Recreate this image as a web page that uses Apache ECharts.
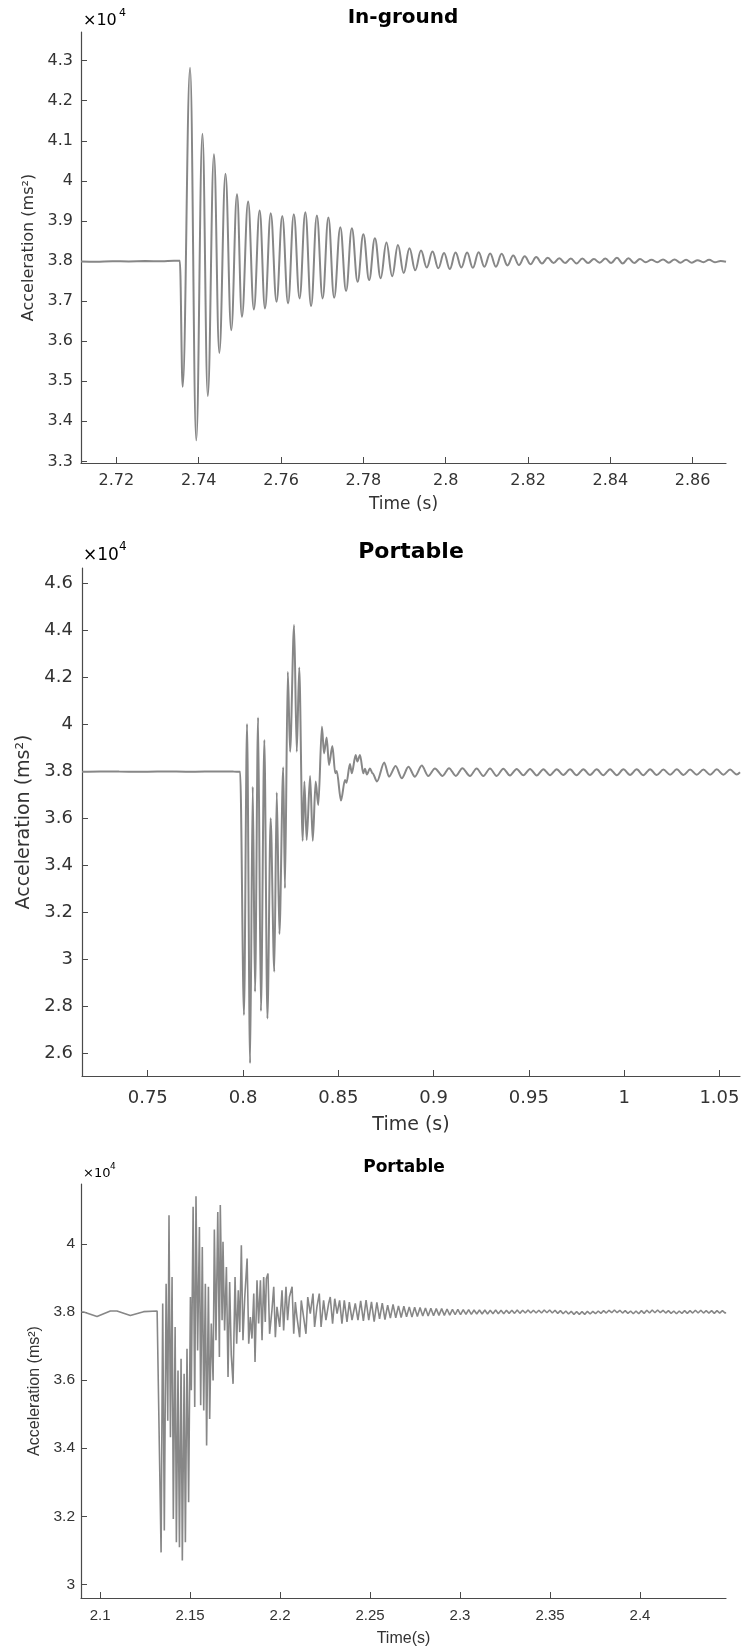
<!DOCTYPE html>
<html><head><meta charset="utf-8">
<script src="https://cdn.jsdelivr.net/npm/echarts@6/dist/echarts.min.js"></script>
<style>html,body{margin:0;padding:0;background:#fff}#c{width:743px;height:1651px}</style>
</head><body><div id="c"></div>
<script>
// ---------- Panel 1: In-ground  [time (s), acceleration]
const inGroundSamples = [
[2.7114,37990],[2.7150,37985],[2.7190,37995],[2.7230,37990],[2.7270,37998],[2.7310,37995],[2.7340,38005],[2.7354,38005],
[2.7361,34860],[2.7379,42820],[2.7394,33525],[2.7409,41175],[2.7422,34633],[2.7437,40667],[2.7450,35708],[2.7465,40175],
[2.7479,36275],[2.7493,39667],[2.7505,36608],[2.7520,39483],[2.7534,36792],[2.7548,39258],[2.7561,36817],[2.7575,39192],
[2.7589,36983],[2.7603,39125],[2.7617,36942],[2.7631,39167],[2.7645,37067],[2.7659,39217],[2.7673,36875],[2.7687,39133],
[2.7701,37067],[2.7715,39083],[2.7729,37083],[2.7744,38842],[2.7758,37250],[2.7772,38817],[2.7786,37483],[2.7800,38667],
[2.7814,37525],[2.7828,38570],[2.7842,37570],[2.7856,38460],[2.7870,37620],[2.7884,38400],[2.7898,37700],[2.7912,38320],
[2.7926,37770],[2.7940,38260],[2.7954,37840],[2.7968,38240],[2.7982,37820],[2.7996,38200],[2.8010,37800],[2.8024,38210],
[2.8038,37840],[2.8052,38210],[2.8066,37830],[2.8080,38220],[2.8094,37860],[2.8108,38190],[2.8122,37860],[2.8136,38180],
[2.8150,37890],[2.8164,38140],[2.8178,37900],[2.8192,38120],[2.8206,37920],[2.8220,38100],[2.8234,37940],[2.8248,38080],
[2.8262,37950],[2.8276,38070],[2.8290,37950],[2.8304,38060],[2.8318,37940],[2.8332,38060],[2.8346,37950],[2.8360,38050],
[2.8374,37960],[2.8388,38060],[2.8402,37950],[2.8416,38080],[2.8430,37940],[2.8444,38070],[2.8458,37950],[2.8472,38050],
[2.8486,37970],[2.8500,38030],[2.8514,37970],[2.8528,38040],[2.8542,37960],[2.8556,38040],[2.8570,37960],[2.8584,38030],
[2.8598,37960],[2.8612,38020],[2.8626,37970],[2.8640,38030],[2.8654,37970],[2.8668,38000],[2.8681,37980]
];
const inGroundXTicks = [2.72,2.74,2.76,2.78,2.80,2.82,2.84,2.86];
const inGroundYTicks = [33000,34000,35000,36000,37000,38000,39000,40000,41000,42000,43000];

// ---------- Panel 2: Portable (first)
const portableASamples = [
[0.7155,37970],[0.7250,37980],[0.7350,37975],[0.7450,37965],[0.7550,37980],[0.7650,37975],[0.7750,37970],[0.7850,37980],
[0.7950,37975],[0.7985,37970],[0.8005,27620],[0.8021,40000],[0.8037,25560],[0.8051,37330],[0.8063,28610],[0.8079,40280],
[0.8094,27790],[0.8112,39320],[0.8128,27470],[0.8145,35990],[0.8164,29460],[0.8177,37090],[0.8191,31060],[0.8211,38160],
[0.8220,33010],[0.8235,42220],[0.8247,38820],[0.8268,44210],[0.8282,38820],[0.8295,42410],[0.8313,35030],[0.8322,37550],
[0.8334,35060],[0.8352,37790],[0.8366,35030],[0.8381,37550],[0.8395,36550],[0.8414,39890],[0.8425,38750],[0.8439,39430],
[0.8451,38260],[0.8469,39060],[0.8484,37900],[0.8492,38000],[0.8514,36740],[0.8535,37620],[0.8543,37500],[0.8561,38300],
[0.8571,37900],[0.8591,38680],[0.8600,38400],[0.8614,38680],[0.8631,37900],[0.8640,38100],[0.8650,37850],[0.8666,38110],
[0.8680,37900],[0.8703,37550],[0.8741,38360],[0.8766,37760],[0.8801,38210],[0.8833,37690],[0.8868,38180],[0.8902,37760],
[0.8938,38230],[0.8972,37790],[0.9007,38110],[0.9047,37790],[0.9081,38120],[0.9117,37790],[0.9151,38120],[0.9191,37790],
[0.9226,38110],[0.9261,37790],[0.9296,38110],[0.9331,37790],[0.9366,38100],[0.9401,37810],[0.9436,38090],[0.9471,37820],
[0.9506,38090],[0.9541,37810],[0.9576,38080],[0.9611,37820],[0.9646,38080],[0.9681,37830],[0.9716,38070],[0.9751,37820],
[0.9786,38080],[0.9821,37830],[0.9856,38070],[0.9891,37820],[0.9926,38080],[0.9961,37820],[0.9996,38070],[1.0031,37830],
[1.0066,38070],[1.0101,37820],[1.0136,38080],[1.0171,37830],[1.0206,38060],[1.0241,37840],[1.0276,38070],[1.0311,37830],
[1.0346,38060],[1.0381,37840],[1.0416,38060],[1.0451,37840],[1.0486,38070],[1.0521,37840],[1.0556,38060],[1.0591,37850],
[1.0608,37950]
];
const portableAXTicks = [0.75,0.80,0.85,0.90,0.95,1.00,1.05];
const portableAYTicks = [26000,28000,30000,32000,34000,36000,38000,40000,42000,44000,46000];

// ---------- Panel 3: Portable (second)
const portableBSamples = [
[2.0896,38000],[2.0909,38000],[2.0983,37870],[2.1057,38030],[2.1094,38030],[2.1168,37900],[2.1242,38010],[2.1317,38030],
[2.1326,38000],[2.1339,30940],[2.1348,38250],[2.1357,31580],[2.1367,38830],[2.1376,34810],[2.1383,40840],[2.1391,34320],
[2.1400,39030],[2.1407,31920],[2.1417,37560],[2.1424,31240],[2.1433,36280],[2.1441,31090],[2.1450,36630],[2.1457,30700],
[2.1467,36190],[2.1474,31240],[2.1483,36920],[2.1492,32410],[2.1502,38440],[2.1507,35700],[2.1517,41090],[2.1526,35210],
[2.1533,41400],[2.1542,36870],[2.1552,40500],[2.1559,35260],[2.1568,39910],[2.1576,35110],[2.1585,38830],[2.1592,34080],
[2.1602,38740],[2.1609,34860],[2.1618,37660],[2.1628,35990],[2.1635,40420],[2.1644,37170],[2.1654,40940],[2.1663,36680],
[2.1668,41140],[2.1678,37760],[2.1683,40060],[2.1692,37460],[2.1702,39320],[2.1711,36090],[2.1720,38880],[2.1729,36730],
[2.1739,35890],[2.1750,39030],[2.1759,37070],[2.1768,38640],[2.1776,37410],[2.1785,39960],[2.1794,37170],[2.1804,38440],
[2.1817,39570],[2.1826,37070],[2.1835,37850],[2.1844,37220],[2.1854,38540],[2.1861,36530],[2.1872,38930],[2.1881,37660],
[2.1891,38930],[2.1900,37170],[2.1909,39030],[2.1918,37710],[2.1924,38980],[2.1933,39130],[2.1942,37360],[2.1955,38050],
[2.1965,38740],[2.1974,37260],[2.1983,38150],[2.1998,37560],[2.2011,38640],[2.2020,37460],[2.2033,38740],[2.2042,37760],
[2.2052,38440],[2.2067,38740],[2.2076,37360],[2.2085,38290],[2.2094,37850],[2.2109,37260],[2.2118,38340],[2.2131,37850],
[2.2144,37360],[2.2154,38440],[2.2168,37950],[2.2183,38540],[2.2192,37560],[2.2205,38150],[2.2218,38540],[2.2228,37560],
[2.2242,38340],[2.2255,37760],[2.2270,38250],[2.2279,38440],[2.2292,37660],[2.2304,38390],[2.2317,37950],[2.2331,38340],
[2.2344,37660],[2.2357,38340],[2.2372,37710],[2.2385,38290],[2.2400,37760],[2.2418,38250],[2.2433,37760],
[2.2448,38330],[2.2463,37740],[2.2478,38350],[2.2493,37760],[2.2508,38300],[2.2523,37720],[2.2538,38280],[2.2553,37800],
[2.2568,38260],[2.2583,37780],[2.2598,38200],[2.2613,37820],[2.2628,38220],[2.2643,37830],[2.2658,38180],[2.2673,37840],
[2.2688,38170],[2.2703,37860],[2.2718,38150],[2.2733,37850],[2.2748,38140],[2.2763,37870],[2.2778,38130],[2.2793,37880],
[2.2808,38120],[2.2823,37880],[2.2838,38110],[2.2853,37890],[2.2868,38100],[2.2883,37900],[2.2898,38100],[2.2913,37900],
[2.2928,38090],[2.2943,37910],[2.2958,38080],[2.2973,37920],[2.2988,38080],[2.3003,37920],[2.3018,38070],[2.3033,37930],
[2.3048,38070],[2.3063,37930],[2.3078,38060],[2.3093,37940],[2.3108,38060],[2.3123,37940],[2.3138,38060],[2.3153,37940],
[2.3168,38050],[2.3183,37950],[2.3198,38060],[2.3213,37950],[2.3228,38050],[2.3243,37950],[2.3258,38050],[2.3273,37960],
[2.3288,38050],[2.3303,37960],[2.3318,38060],[2.3333,37960],[2.3348,38050],[2.3363,37970],[2.3378,38060],[2.3393,37970],
[2.3408,38050],[2.3423,37970],[2.3438,38050],[2.3453,37970],[2.3468,38060],[2.3483,37980],[2.3498,38060],[2.3513,37970],
[2.3528,38050],[2.3543,37960],[2.3558,38040],[2.3573,37950],[2.3588,38030],[2.3603,37940],[2.3618,38020],[2.3633,37930],
[2.3648,38010],[2.3663,37930],[2.3678,38010],[2.3693,37930],[2.3708,38020],[2.3723,37940],[2.3738,38020],[2.3753,37950],
[2.3768,38030],[2.3783,37960],[2.3798,38040],[2.3813,37970],[2.3828,38050],[2.3843,37980],[2.3858,38060],[2.3873,37980],
[2.3888,38050],[2.3903,37970],[2.3918,38040],[2.3933,37960],[2.3948,38030],[2.3963,37950],[2.3978,38030],[2.3993,37950],
[2.4008,38040],[2.4023,37960],[2.4038,38050],[2.4053,37970],[2.4068,38060],[2.4083,37980],[2.4098,38060],[2.4113,37980],
[2.4128,38050],[2.4143,37970],[2.4158,38040],[2.4173,37960],[2.4188,38030],[2.4203,37950],[2.4218,38030],[2.4233,37960],
[2.4248,38040],[2.4263,37960],[2.4278,38040],[2.4293,37970],[2.4308,38050],[2.4323,37970],[2.4338,38050],[2.4353,37970],
[2.4368,38040],[2.4383,37970],[2.4398,38040],[2.4413,37960],[2.4428,38040],[2.4443,37970],[2.4458,38040],[2.4473,37970],
[2.4478,37990]
];
const portableBXTicks = [2.10,2.15,2.20,2.25,2.30,2.35,2.40];
const portableBYTicks = [30000,32000,34000,36000,38000,40000];

// ---------- styling
const DJ = 'DejaVu Sans', LB = 'Liberation Sans';
const AXC = '#4a4a4a', TXT = '#333333', LINEC = '#878787';
const fx = v => String(Number(v.toFixed(2)));
const fy = v => String(Number((v / 1e4).toFixed(1)));

function xAx(gi, min, max, ticks, font, fs, margin, name, nfs, gap) {
  return {
    type: 'value', gridIndex: gi, min, max,
    name, nameLocation: 'middle', nameGap: gap,
    nameTextStyle: { fontFamily: font, fontSize: nfs, color: TXT },
    axisLine: { show: true, onZero: false, lineStyle: { color: AXC, width: 1.2 } },
    axisTick: { show: true, inside: true, length: 6, customValues: ticks, lineStyle: { color: AXC, width: 1 } },
    axisLabel: { customValues: ticks, formatter: fx, fontFamily: font, fontSize: fs, color: TXT, margin },
    splitLine: { show: false }
  };
}
function yAx(gi, min, max, ticks, font, fs, margin, name, nfs, gap) {
  return {
    type: 'value', gridIndex: gi, min, max,
    name, nameLocation: 'middle', nameGap: gap, nameRotate: 90,
    nameTextStyle: { fontFamily: font, fontSize: nfs, color: TXT },
    axisLine: { show: true, onZero: false, lineStyle: { color: AXC, width: 1.2 } },
    axisTick: { show: true, inside: true, length: 6, customValues: ticks, lineStyle: { color: AXC, width: 1 } },
    axisLabel: { customValues: ticks, formatter: fy, fontFamily: font, fontSize: fs, color: TXT, margin },
    splitLine: { show: false }
  };
}
function txt(x, y, text, font, align) {
  return { type: 'text', x, y, silent: true,
    style: { text, font, fill: '#000', textAlign: align || 'left', textVerticalAlign: 'middle' } };
}

const chart = echarts.init(document.getElementById('c'), null, { renderer: 'canvas' });
chart.setOption({
  animation: false,
  backgroundColor: '#ffffff',
  grid: [
    { left: 81, top: 32, width: 645, height: 431, outerBoundsMode: 'none' },
    { left: 82, top: 568, width: 658, height: 508, outerBoundsMode: 'none' },
    { left: 81, top: 1184, width: 645, height: 414, outerBoundsMode: 'none' }
  ],
  xAxis: [
    xAx(0, 2.7114, 2.8681, inGroundXTicks, DJ, 16, 10, 'Time (s)', 17, 33),
    xAx(1, 0.7155, 1.0608, portableAXTicks, DJ, 18, 13, 'Time (s)', 19, 40),
    xAx(2, 2.0894, 2.4478, portableBXTicks, LB, 15, 10, 'Time(s)', 16, 33)
  ],
  yAxis: [
    yAx(0, 32960, 43715, inGroundYTicks, DJ, 16, 8, 'Acceleration (ms²)', 16, 42),
    yAx(1, 25020, 46640, portableAYTicks, DJ, 18, 9, 'Acceleration (ms²)', 19, 43),
    yAx(2, 29600, 41760, portableBYTicks, LB, 15.5, 6, 'Acceleration (ms²)', 16, 37)
  ],
  graphic: [
    txt(403, 18, 'In-ground', 'bold 20px "DejaVu Sans"', 'center'),
    txt(411, 552, 'Portable', 'bold 22px "DejaVu Sans"', 'center'),
    txt(404, 1168, 'Portable', 'bold 17px "DejaVu Sans"', 'center'),
    txt(83, 21, '×10', '16px "DejaVu Sans"'),
    txt(119, 13, '4', '11px "DejaVu Sans"'),
    txt(83, 556, '×10', '17px "DejaVu Sans"'),
    txt(119, 547, '4', '12px "DejaVu Sans"'),
    txt(83, 1174, '×10', '13px "DejaVu Sans"'),
    txt(110, 1167, '4', '9px "DejaVu Sans"')
  ],
  series: [
    { type: 'line', xAxisIndex: 0, yAxisIndex: 0, data: inGroundSamples, showSymbol: false,
      smooth: 0.4, smoothMonotone: 'x',
      lineStyle: { color: LINEC, width: 2 }, silent: true },
    { type: 'line', xAxisIndex: 1, yAxisIndex: 1, data: portableASamples, showSymbol: false,
      smooth: 0.3, smoothMonotone: 'x',
      lineStyle: { color: LINEC, width: 2 }, silent: true },
    { type: 'line', xAxisIndex: 2, yAxisIndex: 2, data: portableBSamples, showSymbol: false,
      lineStyle: { color: LINEC, width: 1.6 }, silent: true }
  ]
});
</script></body></html>
